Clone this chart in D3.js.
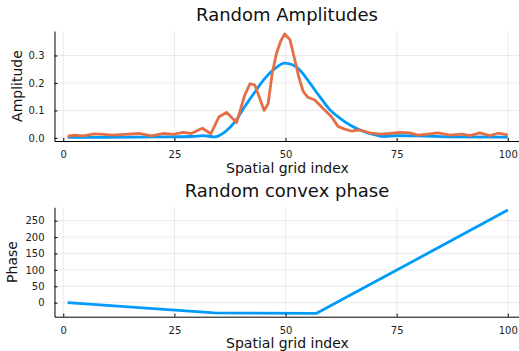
<!DOCTYPE html>
<html>
<head>
<meta charset="utf-8">
<script src="https://cdn.jsdelivr.net/npm/d3@7"></script>
<style>
  body { margin: 0; background: #fff; }
  svg { display: block; font-family: "DejaVu Sans", sans-serif; }
</style>
</head>
<body>
<div id="container"></div>
<script>
// Data
var X_TICKS = [0, 25, 50, 75, 100];
var AMP_TICKS = [0.0, 0.1, 0.2, 0.3];
var PHASE_TICKS = [0, 50, 100, 150, 200, 250];

// Smooth amplitude (blue)
var blueIdx = [1, 8, 16, 24, 29, 31.5, 34, 36.4, 38.6, 40.8, 43.1, 45.3, 47.6, 49.8, 51.7, 53.2, 55.5, 57.7, 60, 62.2, 64.5, 66.7, 69.7, 72, 75, 80, 88, 100];
var blueAmp = [0.002, 0.002, 0.003, 0.004, 0.005, 0.008, 0.004, 0.022, 0.058, 0.113, 0.167, 0.216, 0.252, 0.272, 0.265, 0.247, 0.199, 0.15, 0.102, 0.072, 0.047, 0.029, 0.013, 0.005, 0.008, 0.007, 0.004, 0.003];

// Random amplitude (orange)
var orangeIdx = [1, 2.5, 4.5, 7, 9, 11, 14, 17, 19.8, 22.5, 24.7, 27, 28.8, 31.3, 33.2, 35, 36.7, 39, 40.8, 42, 43.1, 45.2, 46.1, 47, 48, 49, 49.8, 51, 52, 53, 54, 55, 56.6, 58.4, 60.3, 61.8, 63.3, 64.8, 66.7, 69.3, 71.5, 73.5, 75.7, 77.9, 79.8, 82, 84.3, 87, 89.7, 91.5, 93.7, 96, 97.8, 100];
var orangeAmp = [0.006, 0.01, 0.007, 0.015, 0.013, 0.01, 0.013, 0.016, 0.007, 0.016, 0.013, 0.02, 0.016, 0.035, 0.015, 0.076, 0.093, 0.056, 0.155, 0.197, 0.192, 0.1, 0.125, 0.235, 0.31, 0.355, 0.378, 0.357, 0.29, 0.22, 0.168, 0.148, 0.138, 0.108, 0.078, 0.042, 0.032, 0.025, 0.029, 0.017, 0.014, 0.016, 0.02, 0.018, 0.01, 0.014, 0.018, 0.01, 0.014, 0.008, 0.018, 0.008, 0.017, 0.011];

// Convex phase (blue)
var phaseIdx = [1, 34, 57, 100];
var phaseVal = [0, -31, -32.5, 282.5];

var W = 519, H = 351;
var BLUE = "#009AFA", ORANGE = "#E36F47";

var svg = d3.select("#container").append("svg")
    .attr("width", W)
    .attr("height", H);

var x = d3.scaleLinear().domain([-1.97, 102.97]).range([54.5, 521]);

function zip(a, b) {
  return a.map(function(d, i) { return [d, b[i]]; });
}

// Draws one panel: grid, axes, labels, title
function panel(opts) {
  var y = opts.y;
  var g = svg.append("g");
  var top = y.range()[1], bottom = y.range()[0];

  // Grid
  g.selectAll(".vgrid").data(X_TICKS).enter().append("line")
      .attr("x1", function(d) { return x(d); })
      .attr("x2", function(d) { return x(d); })
      .attr("y1", top).attr("y2", bottom)
      .attr("stroke", "#000").attr("stroke-opacity", 0.08);
  g.selectAll(".hgrid").data(opts.yTicks).enter().append("line")
      .attr("x1", x.range()[0]).attr("x2", x.range()[1])
      .attr("y1", function(d) { return y(d); })
      .attr("y2", function(d) { return y(d); })
      .attr("stroke", "#000").attr("stroke-opacity", 0.08);

  // Series
  opts.series.forEach(function(s) {
    g.append("path")
        .datum(s.data)
        .attr("fill", "none")
        .attr("stroke", s.color)
        .attr("stroke-width", 2.8)
        .attr("stroke-linejoin", "round")
        .attr("d", d3.line()
          .curve(s.smooth ? d3.curveMonotoneX : d3.curveLinear)
          .x(function(d) { return x(d[0]); })
          .y(function(d) { return y(d[1]); }));
  });

  // Axes, ticks inward
  var xAxis = d3.axisBottom(x).tickValues(X_TICKS).tickSizeInner(-3).tickSizeOuter(0).tickPadding(10)
      .tickFormat(d3.format("d"));
  var gx = g.append("g").attr("transform", "translate(0," + bottom + ")").call(xAxis);
  var yAxis = d3.axisLeft(y).tickValues(opts.yTicks).tickSizeInner(-3).tickSizeOuter(0).tickPadding(10)
      .tickFormat(opts.fmt);
  var gy = g.append("g").attr("transform", "translate(54.5,0)").call(yAxis);
  [gx, gy].forEach(function(a) {
    a.select(".domain").attr("stroke", "#000");
    a.selectAll(".tick line").attr("stroke", "#000");
    a.selectAll("text").attr("font-size", 10).attr("fill", "#222")
        .attr("font-family", "DejaVu Sans, sans-serif");
  });

  // Title
  g.append("text")
      .attr("x", 287).attr("y", opts.titleY)
      .attr("text-anchor", "middle")
      .attr("font-size", 18).attr("fill", "#111")
      .text(opts.title);
  // X label
  g.append("text")
      .attr("x", 287.5).attr("y", opts.xLabelY)
      .attr("text-anchor", "middle")
      .attr("font-size", 14).attr("fill", "#111")
      .text("Spatial grid index");
  // Y label
  g.append("text")
      .attr("transform", "translate(" + opts.yLabelX + "," + ((top + bottom) / 2) + ") rotate(-90)")
      .attr("text-anchor", "middle")
      .attr("font-size", 14).attr("fill", "#111")
      .text(opts.yLabel);
}

panel({
  y: d3.scaleLinear().domain([-0.0113, 0.389]).range([141, 31]),
  yTicks: AMP_TICKS,
  fmt: d3.format(".1f"),
  title: "Random Amplitudes",
  titleY: 20.5,
  xLabelY: 172.5,
  yLabel: "Amplitude",
  yLabelX: 22,
  series: [
    {data: zip(blueIdx, blueAmp), color: BLUE, smooth: true},
    {data: zip(orangeIdx, orangeAmp), color: ORANGE, smooth: false}
  ]
});

panel({
  y: d3.scaleLinear().domain([-42.7, 290.9]).range([316.7, 207.3]),
  yTicks: PHASE_TICKS,
  fmt: d3.format("d"),
  title: "Random convex phase",
  titleY: 196.5,
  xLabelY: 347.5,
  yLabel: "Phase",
  yLabelX: 17,
  series: [
    {data: zip(phaseIdx, phaseVal), color: BLUE, smooth: false}
  ]
});
</script>
</body>
</html>
